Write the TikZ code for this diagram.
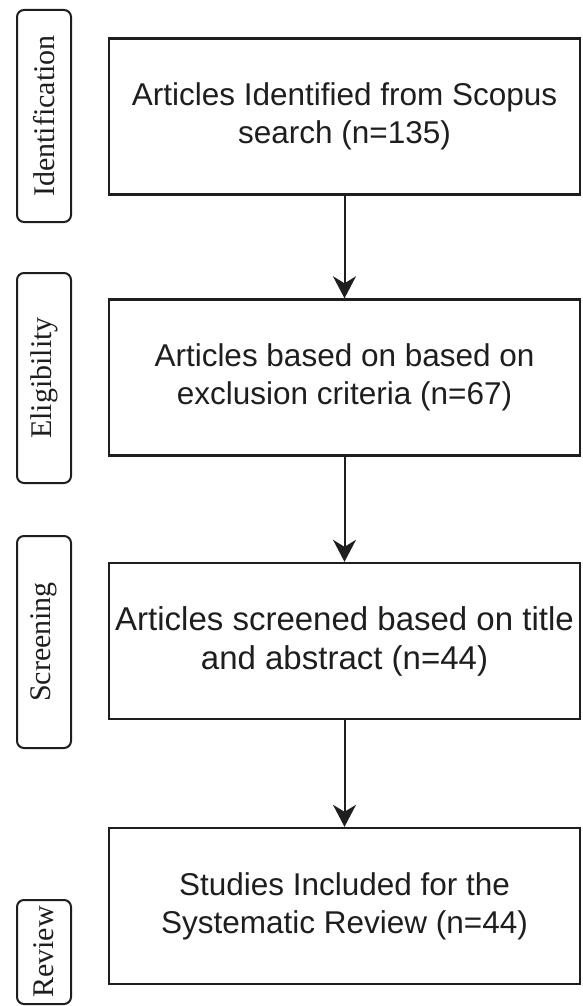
\documentclass[tikz,border=0pt]{standalone}
\usepackage{fontspec}
\setmainfont{Liberation Serif}
\newfontfamily\boxfont{Liberation Sans}
\usetikzlibrary{arrows.meta}
\definecolor{ink}{HTML}{1E1E1E}
\tikzset{
  x=1pt, y=1pt,
  stagebox/.style={draw=ink, line width=2.4pt, minimum width=471pt, minimum height=156pt,
    align=center, inner sep=0pt, text=ink,
    font=\boxfont\fontsize{31.5}{38}\selectfont},
  phasebox/.style={draw=ink, line width=2pt, rounded corners=7pt, minimum height=54pt,
    inner sep=0pt, rotate=90, text=ink, font=\fontsize{30}{36}\selectfont},
  flow/.style={draw=ink, line width=2pt, -{Stealth[length=22pt, width=23pt, inset=7pt]}}
}
\begin{document}
\begin{tikzpicture}
\useasboundingbox (0,0) rectangle (582,-1006);
% main boxes
\node[stagebox] (b1) at (344.5,-116.5) {Articles Identified from Scopus\\search (n=135)};
\node[stagebox] (b2) at (344.5,-377.5) {Articles based on based on\\exclusion criteria (n=67)};
\node[stagebox, font=\boxfont\fontsize{33}{39}\selectfont] (b3) at (344.5,-641) {Articles screened based on title\\and abstract (n=44)};
\node[stagebox] (b4) at (344.5,-906) {Studies Included for the\\Systematic Review (n=44)};
% phase labels (rotated: minimum width runs along the text)
\node[phasebox, minimum width=212pt] (p1) at (44,-116) {Identification};
\node[phasebox, minimum width=210pt] (p2) at (44,-378) {Eligibility};
\node[phasebox, minimum width=212pt] (p3) at (44,-642) {Screening};
\node[phasebox, minimum width=104pt] (p4) at (44,-952) {Review};
% connectors
\draw[flow] (b1.south) -- (b2.north);
\draw[flow] (b2.south) -- (b3.north);
\draw[flow] (b3.south) -- (b4.north);
\end{tikzpicture}
\end{document}
